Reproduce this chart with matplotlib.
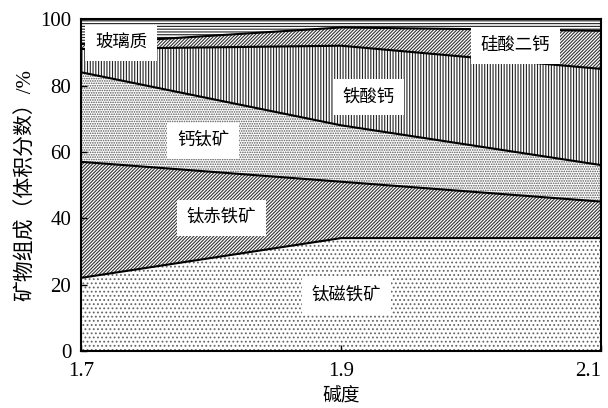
import numpy as np
import matplotlib.pyplot as plt

plt.rcParams['font.family'] = ['Liberation Serif', 'Noto Sans CJK SC']
plt.rcParams['hatch.linewidth'] = 0.8

# basicity and mineral volume fractions (%)
basicity = [1.7, 1.9, 2.1]
ti_magnetite = [22, 34, 34]
ti_hematite = [35, 17, 11]
perovskite = [27, 17, 11]
ca_ferrite = [7, 24, 29]
c2s = [1.5, 5.5, 11.5]
glass = [7.5, 2.5, 3.5]

names = ['钛磁铁矿', '钛赤铁矿', '钙钛矿', '铁酸钙', '硅酸二钙', '玻璃质']
layers = [ti_magnetite, ti_hematite, perovskite, ca_ferrite, c2s, glass]
hatches = ['....', '/' * 10, '.' * 7, '|' * 6, '/' * 10, '-' * 6]
hatch_cols = ['#666666', '#333333', '#555555', '#222222', '#333333', '#222222']
label_pos = [(1.904, 16.6), (1.808, 40.1), (1.794, 63.3), (1.921, 76.5),
             (2.034, 91.9), (1.731, 92.8)]

fig = plt.figure(figsize=(6.08, 4.08), dpi=100)
ax = fig.add_axes([0.133, 0.14, 0.856, 0.813])

x = np.array(basicity)
base = np.zeros(3)
for vals, h, hc in zip(layers, hatches, hatch_cols):
    top = base + np.array(vals)
    ax.fill_between(x, base, top, facecolor='white', edgecolor=hc,
                    hatch=h, linewidth=0)
    ax.plot(x, top, color='black', lw=1.5)
    base = top

for name, (lx, ly) in zip(names, label_pos):
    ax.text(lx, ly, name, ha='center', va='center', fontsize=12.5,
            bbox=dict(facecolor='white', edgecolor='none', pad=7))

ax.set_xlim(1.7, 2.1)
ax.set_ylim(0, 100)
ax.set_xticks(basicity)
ax.set_xticklabels(['1.7', '1.9', '2.1'])
ax.set_yticks(range(0, 101, 20))
ax.tick_params(direction='in', labelsize=15, length=4, width=1)
ax.tick_params(axis='x', pad=8)
ax.tick_params(axis='y', pad=7)
xl = ax.get_xticklabels()
xl[-1].set_horizontalalignment('right')
xl[-1].set_x(2.1)
for s in ax.spines.values():
    s.set_linewidth(1.5)
ax.set_xlabel('碱度', fontsize=13.5, labelpad=4)
ax.set_ylabel('矿物组成（体积分数）/%', fontsize=15, labelpad=3)

fig.savefig('out.png', dpi=100)
